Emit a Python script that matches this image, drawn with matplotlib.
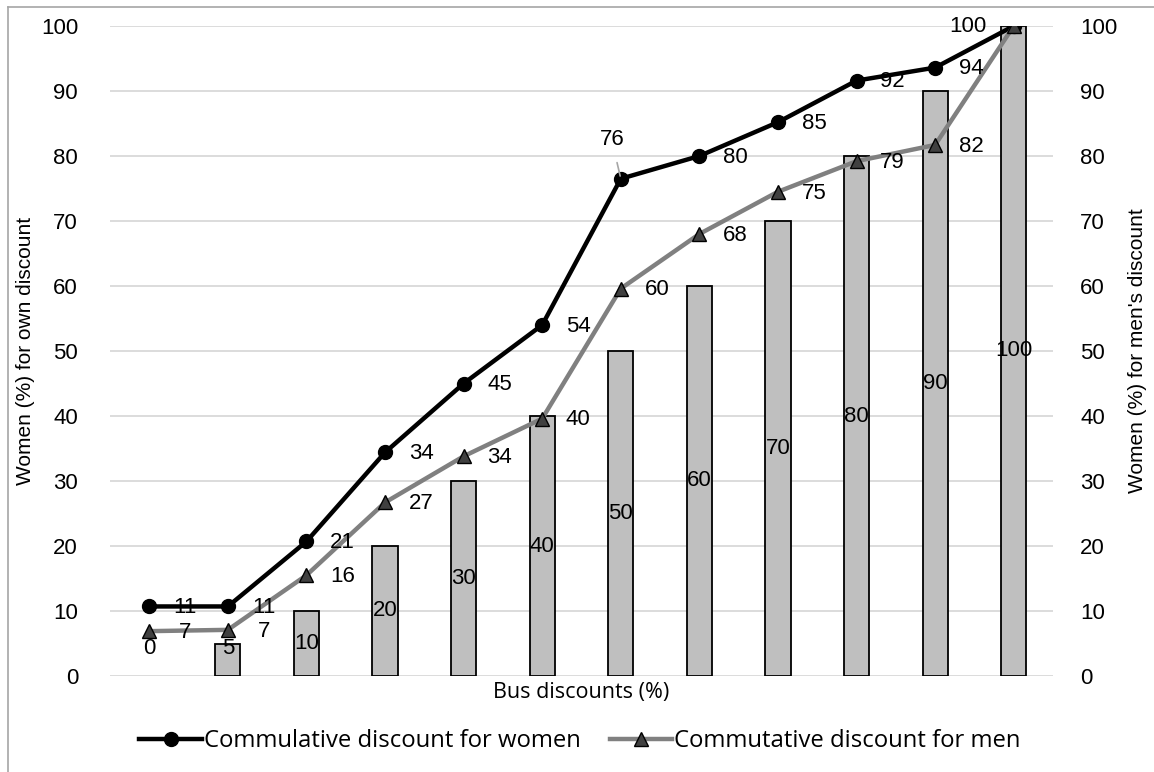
import matplotlib
matplotlib.use("Agg")
import matplotlib.pyplot as plt
from matplotlib.lines import Line2D

plt.rcParams['font.family'] = ['Liberation Sans', 'DejaVu Sans']

categories = [0, 5, 10, 20, 30, 40, 50, 60, 70, 80, 90, 100]
bar_values = [0, 5, 10, 20, 30, 40, 50, 60, 70, 80, 90, 100]
women = [10.7, 10.7, 20.7, 34.4, 45.0, 54.0, 76.5, 80.0, 85.2, 91.6, 93.6, 100.0]
women_labels = ["11", "11", "21", "34", "45", "54", "76", "80", "85", "92", "94", "100"]
men = [6.9, 7.1, 15.5, 26.7, 33.8, 39.6, 59.6, 68.0, 74.5, 79.2, 81.7, 100.0]
men_labels = ["7", "7", "16", "27", "34", "40", "60", "68", "75", "79", "82", "100"]
yticks = [0, 10, 20, 30, 40, 50, 60, 70, 80, 90, 100]

FS = 16
fig = plt.figure(figsize=(11.54, 7.72), dpi=100)
ax = fig.add_axes([110/1154, 1-676/772, (1053-110)/1154, (676-26)/772])
x = list(range(len(categories)))

ax.set_axisbelow(True)
ax.yaxis.grid(True, color='#D9D9D9', linewidth=1.3)
lws = [1.3 if v > 0 else 0 for v in bar_values]
ax.bar(x, bar_values, width=0.32, color='#BFBFBF', edgecolor='black', linewidth=lws, zorder=2)
for xi, v in zip(x, bar_values):
    ax.text(xi, max(v/2, 4.3), str(v), ha='center', va='center', fontsize=FS, zorder=5)

ax.plot(x, women, color='black', linewidth=3.2, marker='o', markersize=10,
        markerfacecolor='black', markeredgecolor='black', zorder=3,
        label='Commulative discount for women')
ax.plot(x, men, color='#808080', linewidth=3.2, marker='^', markersize=10,
        markerfacecolor='#404040', markeredgecolor='black', zorder=4,
        label='Commutative discount for men')

for i, (xi, v, lab) in enumerate(zip(x, women, women_labels)):
    if lab == "76":
        ax.annotate(lab, (xi, v), xytext=(-6.5, 28), textcoords='offset points',
                    ha='center', va='center', fontsize=FS, zorder=6,
                    arrowprops=dict(arrowstyle='-', color='#A6A6A6', lw=1.2, shrinkA=7, shrinkB=2))
    elif i == len(x) - 1:
        ax.annotate(lab, (xi, v), xytext=(-33, 0), textcoords='offset points',
                    ha='center', va='center', fontsize=FS, zorder=6)
    else:
        ax.annotate(lab, (xi, v), xytext=(26, -1), textcoords='offset points',
                    ha='center', va='center', fontsize=FS, zorder=6)
for i, (xi, v, lab) in enumerate(zip(x, men, men_labels)):
    if i == len(x) - 1:
        continue
    ax.annotate(lab, (xi, v), xytext=(26, -1), textcoords='offset points',
                ha='center', va='center', fontsize=FS, zorder=6)

ax.set_xlim(-0.5, len(x) - 0.5)
ax.set_ylim(0, 100)
ax.set_yticks(yticks)
ax.set_xticks([])
ax.tick_params(axis='y', length=0, labelsize=FS, pad=23)
for s in ax.spines.values():
    s.set_visible(False)
ax.set_ylabel('Women (%) for own discount', fontsize=15, labelpad=4)
ax.set_xlabel('Bus discounts (%)', fontsize=15.5, labelpad=4,
              family=['Open Sans', 'DejaVu Sans'])

ax2 = ax.twinx()
ax2.set_ylim(0, 100)
ax2.set_yticks(yticks)
ax2.tick_params(axis='y', length=0, labelsize=FS, pad=19.5)
for s in ax2.spines.values():
    s.set_visible(False)
ax2.set_ylabel("Women (%) for men's discount", fontsize=15, labelpad=8)

h, l = ax.get_legend_handles_labels()
fig.legend(h, l, loc='center', bbox_to_anchor=(580/1154, 1-741/772), ncol=2,
           frameon=False, handlelength=2.6, columnspacing=1.2,
           handletextpad=0.1, prop={'family': ['Open Sans', 'DejaVu Sans'], 'size': 17.2})

fig.add_artist(Line2D([8/1154, 8/1154], [0, 1-7/772], color='#A6A6A6', lw=1.2))
fig.add_artist(Line2D([8/1154, 1], [1-7/772, 1-7/772], color='#A6A6A6', lw=1.2))

fig.savefig('out.png', dpi=100)
